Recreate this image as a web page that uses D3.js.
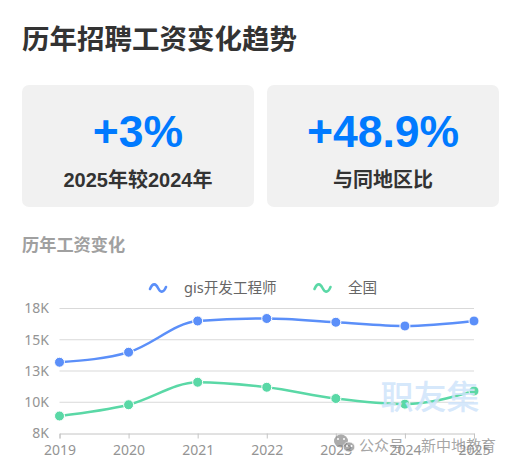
<!DOCTYPE html>
<html><head><meta charset="utf-8">
<script src="https://cdnjs.cloudflare.com/ajax/libs/d3/7.8.5/d3.min.js"></script>
<style>html,body{margin:0;padding:0;background:#fff;overflow:hidden}svg{display:block}text{font-family:"Liberation Sans","Noto Sans CJK SC",sans-serif}</style>
</head><body><svg id="c" width="512" height="466"></svg>
<script>
const years=[2019,2020,2021,2022,2023,2024,2025];
const gisValues=[13200,14000,16500,16700,16400,16100,16500];
const allValues=[8900,9800,11600,11200,10300,9850,10900];
const yTicks=[7500,10000,12500,15000,17500];
const seriesNames=["gis开发工程师","全国"];
const colors=["#5b8ff9","#5ad8a6"];
const cards=[["+3%","2025年较2024年"],["+48.9%","与同地区比"]];

const svg=d3.select("#c");
svg.append("text").attr("x",22).attr("y",49).attr("font-size",27.5).attr("font-weight",700).attr("fill","#333").text("历年招聘工资变化趋势");
cards.forEach((c,i)=>{
  const x=i===0?22:267,w=232;
  svg.append("rect").attr("x",x).attr("y",85).attr("width",w).attr("height",122).attr("rx",7).attr("fill","#f1f1f1");
  svg.append("text").attr("x",x+w/2).attr("y",146.5).attr("text-anchor","middle").attr("font-size",44.5).attr("font-weight",700).attr("fill","#007aff").text(c[0]);
  svg.append("text").attr("x",x+w/2).attr("y",187).attr("text-anchor","middle").attr("font-size",20).attr("font-weight",700).attr("fill","#333").text(c[1]);
});
svg.append("text").attr("x",22).attr("y",251).attr("font-size",17.2).attr("font-weight",700).attr("fill","#a0a0a0").text("历年工资变化");

const x=d3.scalePoint().domain(years).range([59.5,474]);
const y=d3.scaleLinear().domain([7500,17500]).range([433.5,308.5]);
const fmt=v=>Math.round(v/1000+1e-9)+"K";
const g=svg.append("g");
g.selectAll("line.grid").data(yTicks.slice(1)).join("line").attr("x1",59.5).attr("x2",474).attr("y1",d=>y(d)).attr("y2",d=>y(d)).attr("stroke","#d9d9d9").attr("stroke-width",1);
const ax=g.append("g").attr("transform","translate(0,433.5)").call(d3.axisBottom(x).tickSize(5).tickPadding(7).tickFormat(d3.format("d")));
ax.select(".domain").attr("stroke","#c4c4c4");ax.selectAll(".tick line").attr("stroke","#c4c4c4");
ax.selectAll("text").attr("font-size",14).attr("fill","#949494").attr("style",'font-family:"Noto Sans",sans-serif');
const ay=g.append("g").attr("transform","translate(49,0)").call(d3.axisLeft(y).tickValues(yTicks).tickSize(0).tickPadding(0).tickFormat(fmt));
ay.select(".domain").remove();
ay.selectAll("text").attr("font-size",14).attr("fill","#949494").attr("style",'font-family:"Noto Sans",sans-serif');

const line=d3.line().x((d,i)=>x(years[i])).y(d=>y(d)).curve(d3.curveMonotoneX);
[allValues,gisValues].forEach((vals)=>{
  const col=vals===gisValues?colors[0]:colors[1];
  g.append("path").attr("d",line(vals)).attr("fill","none").attr("stroke",col).attr("stroke-width",2.5);
  g.selectAll(null).data(vals).join("circle").attr("cx",(d,i)=>x(years[i])).attr("cy",d=>y(d)).attr("r",5).attr("fill",col).attr("stroke","#fff").attr("stroke-width",1);
});
// legend
const lg=[[150,184,seriesNames[0]],[314.5,348,seriesNames[1]]];
lg.forEach((l,i)=>{
  const xs=l[0],yc=288;
  svg.append("path").attr("d",`M${xs},${yc+1} C${xs+3},${yc-6} ${xs+6},${yc-4} ${xs+8},${yc} S${xs+13},${yc+6} ${xs+16},${yc-1}`).attr("fill","none").attr("stroke",colors[i]).attr("stroke-width",2.6).attr("stroke-linecap","round");
  svg.append("text").attr("x",l[1]).attr("y",292.5).attr("font-size",14.6).attr("fill","#666").attr("style",'font-family:"Noto Sans","Noto Sans CJK SC",sans-serif').text(l[2]);
});
// watermarks
svg.append("text").attr("x",380.5).attr("y",409).attr("font-size",33).attr("font-weight",500).attr("fill","#cfe4fb").attr("fill-opacity",0.85).attr("style",'font-family:"Noto Sans CJK SC",sans-serif').text("职友集");
const wm=svg.append("g");
wm.append("ellipse").attr("cx",341).attr("cy",441).attr("rx",7).attr("ry",6.5).attr("fill","#888").attr("fill-opacity",0.7);
wm.append("ellipse").attr("cx",349).attr("cy",447).attr("rx",5.8).attr("ry",5).attr("fill","#888").attr("fill-opacity",0.7).attr("stroke","#fff").attr("stroke-width",0.7);
[[338,439],[344,439],[347,446],[351.5,446]].forEach(p=>wm.append("circle").attr("cx",p[0]).attr("cy",p[1]).attr("r",1).attr("fill","#fff"));
[[359,"公众号"],[421,"新中地教育"]].forEach(t=>svg.append("text").attr("x",t[0]).attr("y",451).attr("font-size",15).attr("fill","#888").attr("fill-opacity",0.75).attr("style",'font-family:"Noto Sans CJK SC",sans-serif').text(t[1]));
</script></body></html>
